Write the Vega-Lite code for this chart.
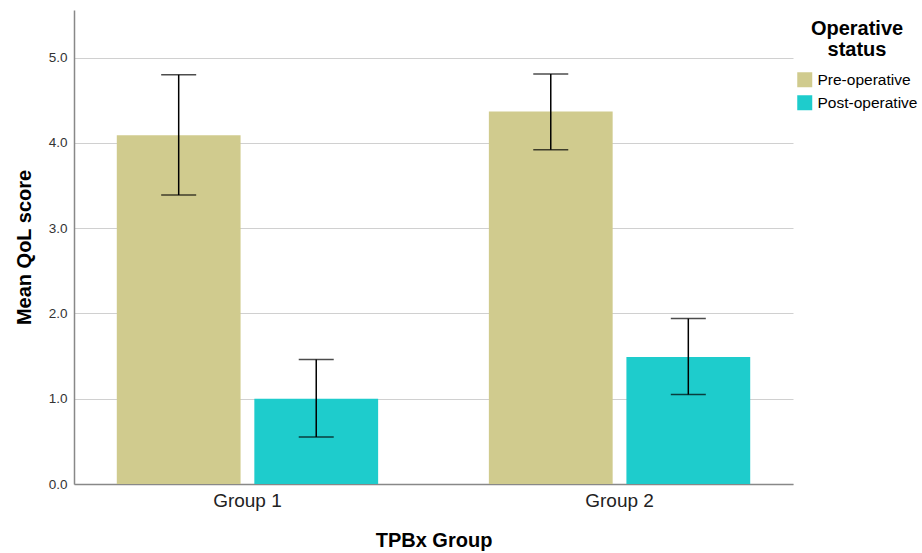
{
  "$schema": "https://vega.github.io/schema/vega-lite/v6.json",
  "width": 719,
  "height": 474,
  "autosize": {"type": "none"},
  "padding": {"left": 74, "top": 10, "right": 129, "bottom": 69},
  "background": "white",
  "config": {
    "font": "Liberation Sans",
    "view": {"stroke": null}
  },
  "data": {
    "values": [
      {"group": "Group 1", "status": "Pre-operative", "mean": 4.09, "lo": 3.39, "hi": 4.80},
      {"group": "Group 1", "status": "Post-operative", "mean": 1.00, "lo": 0.55, "hi": 1.46},
      {"group": "Group 2", "status": "Pre-operative", "mean": 4.37, "lo": 3.92, "hi": 4.81},
      {"group": "Group 2", "status": "Post-operative", "mean": 1.49, "lo": 1.05, "hi": 1.94}
    ]
  },
  "encoding": {
    "x": {
      "field": "group",
      "type": "nominal",
      "scale": {"paddingInner": 0.2976, "paddingOuter": 0.115},
      "axis": {
        "title": "TPBx Group",
        "titleFontSize": 20,
        "titleFontWeight": "bold",
        "titleColor": "black",
        "titlePadding": 20,
        "labelAngle": 0,
        "labelFontSize": 19,
        "labelColor": "#222",
        "labelPadding": 7,
        "ticks": false,
        "domainColor": "#888",
        "domainWidth": 1.5
      }
    },
    "xOffset": {
      "field": "status",
      "type": "nominal",
      "sort": ["Pre-operative", "Post-operative"],
      "scale": {"paddingInner": 0.1, "paddingOuter": 0}
    }
  },
  "layer": [
    {
      "mark": {"type": "bar"},
      "encoding": {
        "y": {
          "field": "mean",
          "type": "quantitative",
          "scale": {"domain": [0, 5.56], "nice": false},
          "axis": {
            "title": "Mean QoL score",
            "titleFontSize": 20,
            "titleFontWeight": "bold",
            "titleColor": "black",
            "titlePadding": 14,
            "values": [0, 1, 2, 3, 4, 5],
            "format": ".1f",
            "labelFontSize": 13.5,
            "labelColor": "#333",
            "labelPadding": 7,
            "ticks": false,
            "domainColor": "#888",
            "domainWidth": 1.5,
            "gridColor": "#d0d0d0",
            "gridWidth": 1
          }
        },
        "color": {
          "field": "status",
          "type": "nominal",
          "scale": {"domain": ["Pre-operative", "Post-operative"], "range": ["#D0CB8E", "#1ECCCC"]},
          "legend": {
            "title": ["Operative", "status"],
            "titleFontSize": 20,
            "titleLineHeight": 21,
            "titleFontWeight": "bold",
            "titleColor": "black",
            "titleAlign": "center",
            "titleAnchor": "middle",
            "titlePadding": 12,
            "labelFontSize": 15.5,
            "labelColor": "black",
            "labelOffset": 5,
            "symbolType": "square",
            "symbolSize": 225,
            "symbolStrokeWidth": 0,
            "symbolOpacity": 1,
            "rowPadding": 6,
            "orient": "none",
            "legendX": 723,
            "legendY": 9,
            "padding": 0
          }
        }
      }
    },
    {
      "mark": {"type": "rule", "color": "black", "strokeWidth": 1.5},
      "encoding": {
        "y": {"field": "lo", "type": "quantitative"},
        "y2": {"field": "hi"}
      }
    },
    {
      "mark": {"type": "tick", "color": "black", "size": 35, "thickness": 1.5},
      "encoding": {
        "y": {"field": "lo", "type": "quantitative"}
      }
    },
    {
      "mark": {"type": "tick", "color": "black", "size": 35, "thickness": 1.5},
      "encoding": {
        "y": {"field": "hi", "type": "quantitative"}
      }
    }
  ]
}
